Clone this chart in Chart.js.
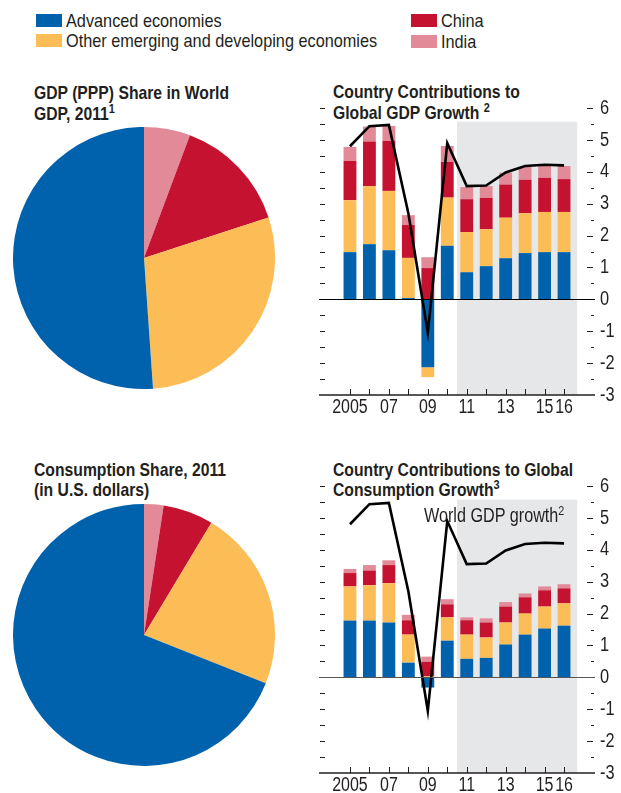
<!DOCTYPE html>
<html>
<head>
<meta charset="utf-8">
<script src="https://cdn.jsdelivr.net/npm/chart.js@4.4.0/dist/chart.umd.min.js"></script>
<style>
  html, body { margin: 0; padding: 0; background: #fff; }
  body { width: 621px; height: 793px; position: relative; overflow: hidden;
         font-family: "Liberation Sans", Arial, sans-serif; color: #231f20; }
  .sw { position: absolute; width: 26px; height: 13px; }
  .t { position: absolute; white-space: nowrap; }
  .t span { display: inline-block; transform-origin: 0 0; }
  .lg { font-size: 18.6px; line-height: 20px; }
  .lg span { transform: scaleX(0.875); }
  .ttl { font-size: 18.6px; line-height: 21.5px; font-weight: bold; }
  .ttl span { transform: scaleX(0.845); }
  .ttl sup { font-weight: bold; }
  .note { font-size: 19.5px; line-height: 21px; }
  .note span { transform: scaleX(0.83); }
  sup { font-size: 13px; line-height: 0; vertical-align: 7px; font-weight: normal; }
  canvas { position: absolute; }
</style>
</head>
<body>
<div class="sw" style="left:36px;top:14px;background:#0062ac"></div>
<div class="t lg" style="left:66px;top:11.3px"><span>Advanced economies</span></div>
<div class="sw" style="left:36px;top:34px;background:#fdbd56"></div>
<div class="t lg" style="left:66px;top:31.3px"><span>Other emerging and developing economies</span></div>
<div class="sw" style="left:411px;top:14px;background:#c41230"></div>
<div class="t lg" style="left:441px;top:11.3px"><span>China</span></div>
<div class="sw" style="left:411px;top:35px;background:#e28a98"></div>
<div class="t lg" style="left:441px;top:31.9px"><span>India</span></div>

<div class="t ttl" style="left:34px;top:81.8px"><span>GDP (PPP) Share in World<br>GDP, 2011<sup>1</sup></span></div>
<div class="t ttl" style="left:333px;top:80.8px;line-height:21px"><span>Country Contributions to<br>Global GDP Growth <sup>2</sup></span></div>
<div class="t ttl" style="left:34px;top:459.5px;line-height:20.5px"><span>Consumption Share, 2011<br>(in U.S. dollars)</span></div>
<div class="t ttl" style="left:333px;top:459.5px;line-height:20.5px"><span>Country Contributions to Global<br>Consumption Growth<sup>3</sup></span></div>

<canvas id="pie1" width="262" height="262" style="left:13px;top:127px"></canvas>
<canvas id="pie2" width="262" height="262" style="left:13px;top:504px"></canvas>
<canvas id="bar1" width="321" height="350" style="left:300px;top:80px"></canvas>
<canvas id="bar2" width="321" height="350" style="left:300px;top:458px"></canvas>
<div class="t note" style="left:424px;top:504.7px"><span>World GDP growth<sup>2</sup></span></div>

<script>
const BLUE = '#0062ac', YELLOW = '#fdbd56', RED = '#c41230', PINK = '#e28a98';
const FONT = '"Liberation Sans", Arial, sans-serif';

// pie shares, 2011 (percent), clockwise from top: India, China, Other, Advanced
const pieLabels = ['India', 'China', 'Other emerging and developing economies', 'Advanced economies'];
const gdpShare = [5.7, 14.3, 28.9, 51.1];
const consShare = [2.4, 6.2, 22.4, 69.0];

const years = [2005, 2006, 2007, 2008, 2009, 2010, 2011, 2012, 2013, 2014, 2015, 2016];
const xTickLabels = ['2005', '', '07', '', '09', '', '11', '', '13', '', '15', '16'];
const yTicks = [6, 5, 4, 3, 2, 1, 0, -1, -2, -3];

// contributions to global GDP growth (percentage points)
const gdpAdv = [1.48, 1.73, 1.54, 0.04, -2.13, 1.68, 0.85, 1.04, 1.29, 1.45, 1.48, 1.48];
const gdpOther = [1.63, 1.82, 1.86, 1.26, -0.31, 1.51, 1.26, 1.16, 1.27, 1.25, 1.26, 1.26];
const gdpChina = [1.23, 1.40, 1.57, 1.03, 0.98, 1.12, 1.03, 0.98, 1.04, 1.05, 1.07, 1.03];
const gdpIndia = [0.44, 0.47, 0.47, 0.31, 0.34, 0.50, 0.38, 0.37, 0.37, 0.40, 0.37, 0.41];

// contributions to global consumption growth
const conAdv = [1.78, 1.78, 1.72, 0.46, -0.32, 1.15, 0.58, 0.61, 1.03, 1.34, 1.53, 1.62];
const conOther = [1.07, 1.11, 1.23, 0.88, 0.03, 0.73, 0.76, 0.64, 0.69, 0.66, 0.69, 0.70];
const conChina = [0.42, 0.46, 0.57, 0.45, 0.46, 0.41, 0.45, 0.47, 0.50, 0.51, 0.51, 0.47];
const conIndia = [0.13, 0.17, 0.15, 0.17, 0.16, 0.16, 0.09, 0.13, 0.14, 0.12, 0.12, 0.13];

// world GDP growth (percent)
const worldGdp = [4.8, 5.43, 5.47, 2.7, -1.05, 4.9, 3.55, 3.57, 3.98, 4.18, 4.22, 4.2];

function makePie(id, values) {
  new Chart(document.getElementById(id), {
    type: 'pie',
    data: { labels: pieLabels, datasets: [{ data: values, backgroundColor: [PINK, RED, YELLOW, BLUE], borderWidth: 0 }] },
    options: {
      responsive: false, animation: false, layout: { padding: 0 },
      plugins: { legend: { display: false }, tooltip: { enabled: false } }
    }
  });
}

// axis labels in the original are set in a condensed face
const narrowText = {
  id: 'narrowText',
  beforeDraw(chart) {
    const ctx = chart.ctx;
    if (ctx.__narrow) return;
    const orig = ctx.fillText.bind(ctx);
    ctx.fillText = function (t, x, y) {
      this.save(); this.translate(x, y); this.scale(0.8, 1); orig(t, 0, 0); this.restore();
    };
    ctx.__narrow = true;
  }
};

const decor = {
  id: 'decor',
  beforeDatasetsDraw(chart) {
    const { ctx, scales: { x, y } } = chart;
    ctx.save();
    ctx.fillStyle = '#e6e7e8';
    const x0 = x.getPixelForValue(2010.5), x1 = x.getPixelForValue(2016.68);
    const y0 = y.getPixelForValue(5.57), y1 = y.getPixelForValue(-3);
    ctx.fillRect(x0, y0, x1 - x0, y1 - y0);
    ctx.restore();
  },
  afterDatasetsDraw(chart, args, opts) {
    const { ctx, chartArea: a, scales: { x, y } } = chart;
    ctx.save();
    ctx.strokeStyle = '#231f20';
    ctx.lineWidth = 1;
    // half-unit marks
    for (let v = -2.5; v <= 6; v += 0.5) {
      const py = Math.round(y.getPixelForValue(v)) + 0.5;
      ctx.beginPath();
      ctx.moveTo(a.left + 1, py); ctx.lineTo(a.left + 6, py);
      if (Number.isInteger(v)) { ctx.moveTo(a.right - 8, py); ctx.lineTo(a.right - 2, py); }
      else { ctx.moveTo(a.right - 4, py); ctx.lineTo(a.right - 1, py); }
      ctx.stroke();
    }
    // zero line
    ctx.strokeStyle = opts.zeroColor;
    const pz = Math.round(y.getPixelForValue(0)) + 0.5;
    ctx.beginPath(); ctx.moveTo(a.left, pz); ctx.lineTo(a.right, pz); ctx.stroke();
    // x axis with upward ticks
    ctx.strokeStyle = '#231f20';
    ctx.lineWidth = 1.5;
    const pb = y.getPixelForValue(-3);
    ctx.beginPath(); ctx.moveTo(a.left, pb); ctx.lineTo(a.right, pb); ctx.stroke();
    ctx.lineWidth = 1;
    years.forEach(yr => {
      const px = Math.round(x.getPixelForValue(yr)) + 0.5;
      ctx.beginPath(); ctx.moveTo(px, pb); ctx.lineTo(px, pb - 6); ctx.stroke();
    });
    ctx.restore();
  }
};

function makeBars(id, adv, other, china, india, zeroColor) {
  const pts = arr => years.map((yr, i) => ({ x: yr, y: arr[i] }));
  const bar = (label, arr, color) => ({
    type: 'bar', label, data: pts(arr), backgroundColor: color, borderWidth: 0,
    stack: 'bars', order: 1, barPercentage: 0.66, categoryPercentage: 1
  });
  new Chart(document.getElementById(id), {
    data: {
      datasets: [
        { type: 'line', label: 'World GDP growth', data: pts(worldGdp), borderColor: '#000', borderWidth: 2.6,
          pointRadius: 0, tension: 0, fill: false, stack: 'line', order: 0 },
        bar('Advanced economies', adv, BLUE),
        bar('Other emerging and developing economies', other, YELLOW),
        bar('China', china, RED),
        bar('India', india, PINK)
      ]
    },
    options: {
      responsive: false, animation: false,
      layout: { padding: { left: 19, top: 28, right: 0, bottom: 0 } },
      plugins: { legend: { display: false }, tooltip: { enabled: false }, decor: { zeroColor } },
      scales: {
        x: {
          type: 'linear', min: 2004, max: 2017, stacked: true,
          afterBuildTicks: s => { s.ticks = years.map(v => ({ value: v })); },
          afterFit: s => { s.height = 35; },
          grid: { display: false, drawTicks: false }, border: { display: false },
          ticks: { autoSkip: false, maxRotation: 0, padding: 0, color: '#231f20',
                   font: { family: FONT, size: 20 }, callback: (v, i) => xTickLabels[i] }
        },
        y: {
          position: 'right', min: -3, max: 6, stacked: true,
          afterBuildTicks: s => { s.ticks = yTicks.map(v => ({ value: v })); },
          afterFit: s => { s.width = 26; },
          grid: { display: false, drawTicks: false }, border: { display: false },
          ticks: { padding: 5, color: '#231f20', font: { family: FONT, size: 20.5 },
                   callback: v => String(v) }
        }
      }
    },
    plugins: [narrowText, decor]
  });
}

makePie('pie1', gdpShare);
makePie('pie2', consShare);
makeBars('bar1', gdpAdv, gdpOther, gdpChina, gdpIndia, '#000');
makeBars('bar2', conAdv, conOther, conChina, conIndia, '#555');
</script>
</body>
</html>
